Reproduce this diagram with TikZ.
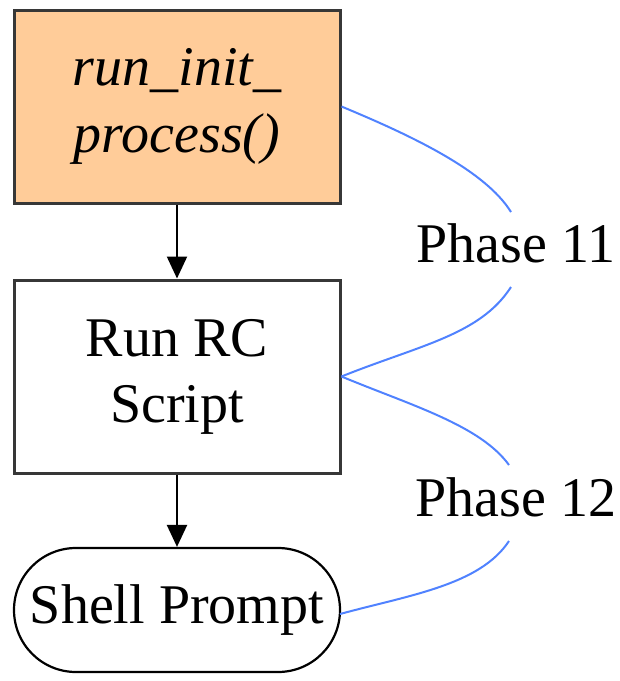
\documentclass[tikz,border=0pt]{standalone}
\usepackage{fontspec}
\setmainfont{Liberation Serif}
\usetikzlibrary{arrows.meta,calc}
\definecolor{boxorange}{RGB}{255,204,153}
\definecolor{boxgray}{RGB}{55,55,55}
\definecolor{phaseblue}{RGB}{80,130,255}
\begin{document}
\begin{tikzpicture}[x=1pt,y=-1pt,
  txt/.style={font=\fontsize{56}{66}\selectfont},
  procbox/.style={draw=boxgray,line width=3pt,minimum width=326pt,minimum height=193pt,inner sep=0pt,align=center,txt},
  termbox/.style={draw=black,line width=2.2pt,rounded corners=62pt,minimum width=326pt,minimum height=124pt,inner sep=0pt,align=center,txt},
  flow/.style={draw=black,line width=2.2pt,-{Triangle[length=22pt,width=20pt]}},
  phase/.style={draw=phaseblue,line width=2pt},
  lbl/.style={txt,inner sep=0pt}]
\useasboundingbox (0,0) rectangle (620,681);
\node[procbox,fill=boxorange] (init) at (177,106.5) {\itshape run\_init\_\\[1pt]\itshape process()};
\node[procbox] (rc) at (177,376.5) {Run RC\\Script};
\node[termbox] (shell) at (177,610) {Shell Prompt};
\node[lbl] (p11) at (516,243) {Phase 11};
\node[lbl] (p12) at (516,497) {Phase 12};
\draw[flow] (init) -- (rc);
\draw[flow] (rc) -- (shell);
\coordinate (a1) at (511,212);
\coordinate (a2) at (511,287);
\coordinate (b1) at (509,465);
\coordinate (b2) at (509,541);
\draw[phase] (init.east) .. controls (410,135) and (485,170) .. (a1);
\draw[phase] (a2) .. controls (480,335) and (420,345) .. (rc.east);
\draw[phase] (rc.east) .. controls (410,405) and (480,425) .. (b1);
\draw[phase] (b2) .. controls (480,585) and (410,595) .. (340,614);
\end{tikzpicture}
\end{document}
